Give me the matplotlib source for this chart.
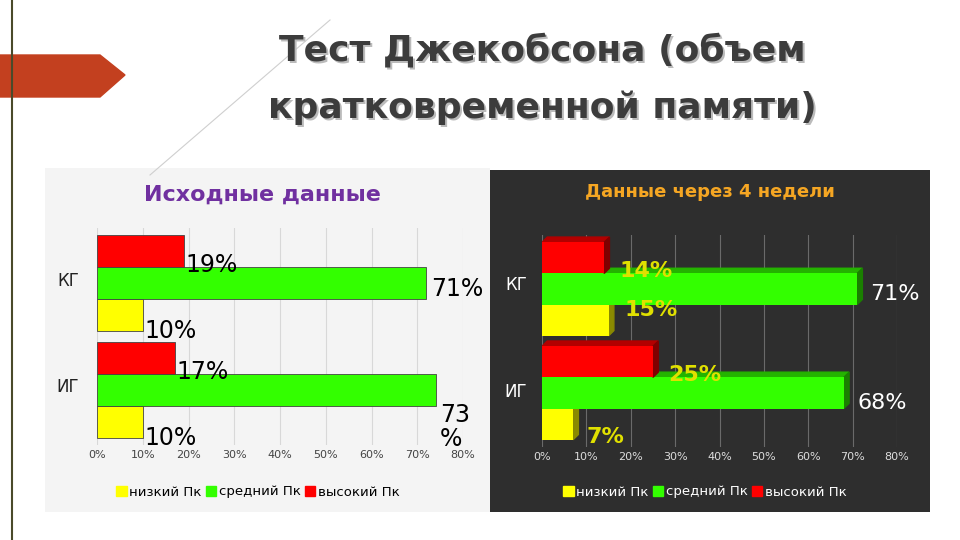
import matplotlib
matplotlib.use("Agg")
import matplotlib.pyplot as plt
from matplotlib.patches import Rectangle, Polygon
from matplotlib.lines import Line2D

groups = ["КГ", "ИГ"]
levels = ["низкий Пк", "средний Пк", "высокий Пк"]
colors = ["#ffff00", "#33ff00", "#ff0000"]
before = {"КГ": [10, 72, 19], "ИГ": [10, 74, 17]}
before_labels = {"КГ": ["10%", "71%", "19%"], "ИГ": ["10%", "73\n%", "17%"]}
after = {"КГ": [15, 71, 14], "ИГ": [7, 68, 25]}
after_labels = {"КГ": ["15%", "71%", "14%"], "ИГ": ["7%", "68%", "25%"]}
xticks = [0, 10, 20, 30, 40, 50, 60, 70, 80]

W, H = 960, 540
fig = plt.figure(figsize=(9.6, 5.4), dpi=100)
fig.patch.set_facecolor("white")
def fx(x): return x / W
def fy(y): return 1 - y / H

# decorations
fig.add_artist(Line2D([fx(12), fx(12)], [0, 1], color="#4a4a2a", lw=1.5))
fig.add_artist(Polygon([(0, fy(55)), (fx(100), fy(55)), (fx(125), fy(75)), (fx(100), fy(97)), (0, fy(97))],
                       closed=True, color="#c3401f", transform=fig.transFigure))
fig.add_artist(Line2D([fx(150), fx(330)], [fy(175), fy(20)], color="#cfcfcf", lw=0.8))

title_lines = ["Тест Джекобсона (объем", "кратковременной памяти)"]
for k, line in enumerate(title_lines):
    yy = fy(50 if k == 0 else 108)
    fig.text(fx(542) + 2 / W, yy - 2 / H, line, ha="center", va="center", fontsize=26,
             fontweight="bold", color="#bbbbbb")
    fig.text(fx(542), yy, line, ha="center", va="center", fontsize=26,
             fontweight="bold", color="#3c3c3c")

# backgrounds
fig.add_artist(Rectangle((fx(45), fy(512)), fx(445), (512 - 168) / H, transform=fig.transFigure,
                         facecolor="#f4f4f4", edgecolor="none", zorder=0))
fig.add_artist(Rectangle((fx(490), fy(512)), fx(440), (512 - 170) / H, transform=fig.transFigure,
                         facecolor="#2e2e2e", edgecolor="none", zorder=0))

fig.text(fx(262), fy(195), "Исходные данные", ha="center", va="center", fontsize=16, color="#7030a0", fontweight="bold")
fig.text(fx(710), fy(192), "Данные через 4 недели", ha="center", va="center", fontsize=13, color="#f5a623", fontweight="bold")

h = 0.3
ypos = {"КГ": 1, "ИГ": 0}

# left chart
ax = fig.add_axes([fx(97), fy(445), fx(463 - 97), (445 - 228) / H])
ax.set_facecolor("none")
for g in groups:
    for i in range(3):
        y = ypos[g] + (i - 1) * h
        ax.barh(y, before[g][i], height=h, color=colors[i], edgecolor="#444444", lw=0.6, zorder=3)
    y0 = ypos[g]
    ax.text(before[g][2] + 0.3, y0 + 0.17, before_labels[g][2], fontsize=17, va="center", ha="left", zorder=4)
    ax.text(before[g][0] + 0.3, y0 - 0.45, before_labels[g][0], fontsize=17, va="center", ha="left", zorder=4)
    ax.text(before[g][1] + 1, y0 - 0.05 if g == "КГ" else y0 - 0.35, before_labels[g][1], fontsize=17,
            va="center", ha="left", zorder=4, linespacing=1.0)
ax.set_xlim(0, 80)
ax.set_ylim(-0.52, 1.52)
ax.set_xticks(xticks)
ax.set_xticklabels([f"{t}%" for t in xticks], fontsize=8, color="#444444")
ax.set_yticks([])
ax.grid(axis="x", color="#d8d8d8", lw=0.8, zorder=0)
for s in ax.spines.values():
    s.set_visible(False)
ax.tick_params(length=0)
for g in groups:
    fig.text(fx(68), fy(281 if g == "КГ" else 387), g, fontsize=12, ha="center", va="center", color="#222222")
hl = [Rectangle((0, 0), 1, 1, color=c) for c in colors]
fig.legend(hl, levels, loc="center", bbox_to_anchor=(fx(258), fy(492)), ncol=3, frameon=False,
           fontsize=9.5, handlelength=0.8, handleheight=0.8, handletextpad=0.2, columnspacing=0.3)

# right chart
dark = {"#ffff00": ("#b3b300", "#8a8a00"), "#33ff00": ("#24b300", "#1a8000"), "#ff0000": ("#b30000", "#800000")}
ax2 = fig.add_axes([fx(542), fy(447), fx(897 - 542), (447 - 235) / H])
ax2.set_facecolor("none")
ddx, ddy = 1.2, 0.05
for g in groups:
    for i in range(3):
        y = ypos[g] + (i - 1) * h
        v = after[g][i]
        c = colors[i]
        ax2.add_patch(Polygon([(0, y + h / 2), (ddx, y + h / 2 + ddy), (v + ddx, y + h / 2 + ddy), (v, y + h / 2)],
                              closed=True, color=dark[c][0], zorder=3))
        ax2.add_patch(Polygon([(v, y - h / 2), (v + ddx, y - h / 2 + ddy), (v + ddx, y + h / 2 + ddy), (v, y + h / 2)],
                              closed=True, color=dark[c][1], zorder=3))
        ax2.barh(y, v, height=h, color=c, zorder=3)
    y0 = ypos[g]
    ax2.text(after[g][2] + 3.5, y0 + 0.17, after_labels[g][2], fontsize=16, color="#e0e000", fontweight="bold", va="center", zorder=4)
    ax2.text(after[g][0] + 3.5 if g == "КГ" else after[g][0] + 3, y0 - 0.2 if g == "КГ" else y0 - 0.42,
             after_labels[g][0], fontsize=16, color="#e0e000", fontweight="bold", va="center", zorder=4)
    ax2.text(after[g][1] + 3, y0 - 0.05 if g == "КГ" else y0 - 0.1, after_labels[g][1], fontsize=16, color="white",
             va="center", zorder=4)
ax2.set_xlim(0, 80)
ax2.set_ylim(-0.52, 1.52)
ax2.set_xticks(xticks)
ax2.set_xticklabels([f"{t}%" for t in xticks], fontsize=8, color="#dddddd")
ax2.set_yticks([])
ax2.grid(axis="x", color="#6a6a6a", lw=0.8, zorder=0)
for s in ax2.spines.values():
    s.set_visible(False)
ax2.tick_params(length=0)
for g in groups:
    fig.text(fx(516), fy(285 if g == "КГ" else 392), g, fontsize=12, ha="center", va="center", color="white")
leg = fig.legend(hl, levels, loc="center", bbox_to_anchor=(fx(705), fy(492)), ncol=3, frameon=False,
                 fontsize=9.5, handlelength=0.8, handleheight=0.8, handletextpad=0.2, columnspacing=0.3)
for t in leg.get_texts():
    t.set_color("white")

fig.savefig("out.png", dpi=100, facecolor="white")
